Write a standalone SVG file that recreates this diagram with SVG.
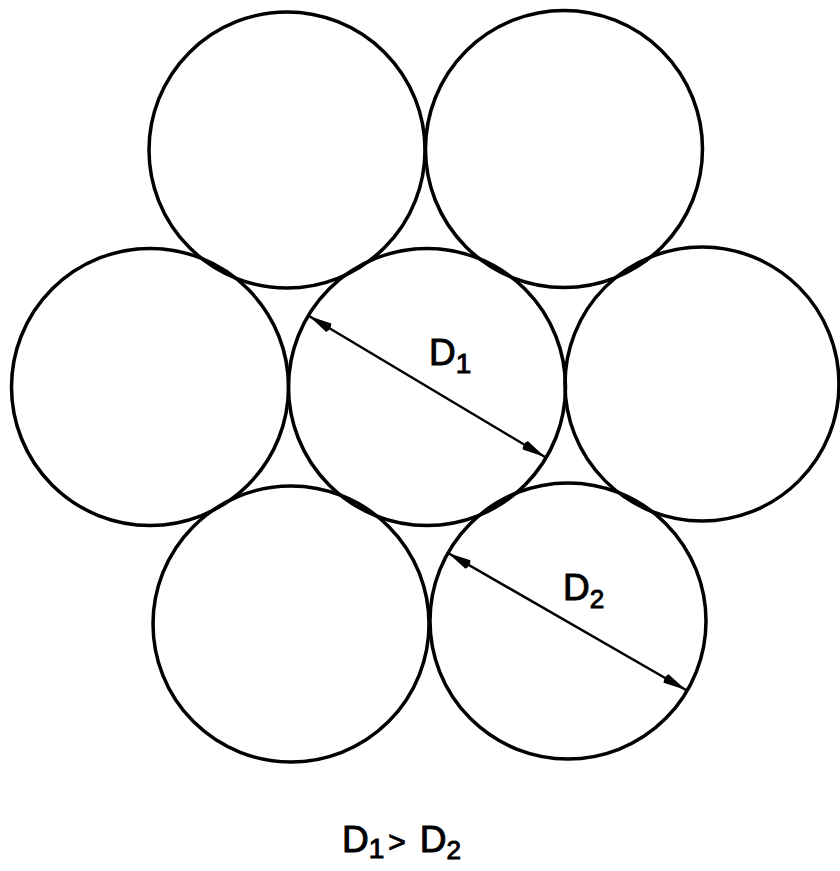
<svg xmlns="http://www.w3.org/2000/svg" width="840" height="871" viewBox="0 0 840 871">
<style>
.c{fill:none;stroke:#000;stroke-width:3.5}
.d{stroke:#000;stroke-width:2.5;fill:none}
text{font-family:"Liberation Sans","DejaVu Sans",sans-serif;fill:#000;stroke:#000;stroke-width:1}
</style>
<defs>
<marker id="ah" markerUnits="userSpaceOnUse" markerWidth="30" markerHeight="14" viewBox="0 -7 30 14" refX="28" refY="0" orient="auto-start-reverse">
<path d="M28,0 L5,-5 Q2,0 5,5 Z" fill="#000"/>
</marker>
</defs>
<rect width="840" height="871" fill="#fff"/>
<g id="circle-top-left"><circle class="c" cx="287" cy="150" r="138"/></g>
<g id="circle-top-right"><circle class="c" cx="564" cy="149" r="138.5"/></g>
<g id="circle-mid-left"><circle class="c" cx="150" cy="387" r="138.5"/></g>
<g id="circle-center"><circle class="c" cx="427" cy="387" r="138.5"/></g>
<g id="circle-mid-right"><circle class="c" cx="702" cy="384" r="137"/></g>
<g id="circle-bottom-left"><circle class="c" cx="291" cy="624" r="138"/></g>
<g id="circle-bottom-right"><circle class="c" cx="568" cy="621" r="138"/></g>
<g id="connectors">
<line class="d" x1="309" y1="316" x2="545" y2="457" marker-start="url(#ah)" marker-end="url(#ah)"/>
<line class="d" x1="448" y1="553" x2="686" y2="690" marker-start="url(#ah)" marker-end="url(#ah)"/>
</g>
<g id="label-d1"><text x="429" y="365" font-size="37">D<tspan font-size="28" dy="8">1</tspan></text></g>
<g id="label-d2"><text x="563" y="600" font-size="37">D<tspan font-size="26" dy="8">2</tspan></text></g>
<g id="label-relation"><text x="342" y="852" font-size="37">D<tspan font-size="28" dy="6">1</tspan><tspan dy="-6" dx="4" font-size="30">&gt;</tspan><tspan dx="14">D</tspan><tspan font-size="26" dy="7">2</tspan></text></g>
</svg>
